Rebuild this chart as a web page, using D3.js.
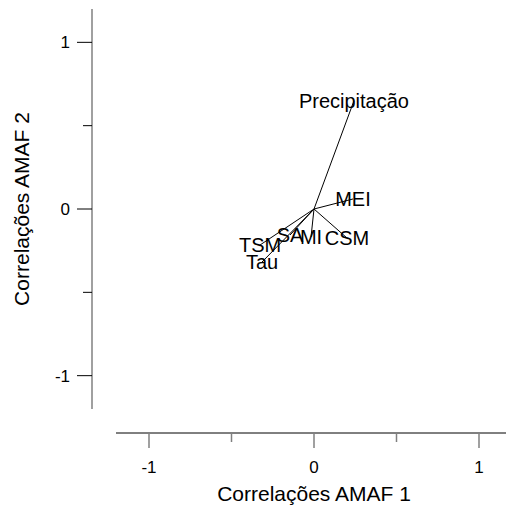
<!DOCTYPE html>
<html>
<head>
<meta charset="utf-8">
<script src="https://cdn.jsdelivr.net/npm/d3@7"></script>
<style>
  body { margin: 0; background: #fff; }
  text { font-family: "Liberation Sans", Arial, sans-serif; fill: #000; }
</style>
</head>
<body>
<div id="chart"></div>
<script>
// variable loadings (correlations with AMAF 1 and AMAF 2)
var labels = ["Precipitação", "MEI", "CSM", "MI", "SA", "TSM", "Tau"];
var amaf1 = [0.242, 0.236, 0.200, -0.018, -0.145, -0.327, -0.315];
var amaf2 = [0.649, 0.060, -0.174, -0.168, -0.156, -0.216, -0.318];
var majorTicks = [-1, 0, 1];
var minorTicks = [-0.5, 0.5];

var width = 506, height = 511;

var svg = d3.select("#chart").append("svg")
  .attr("width", width).attr("height", height);

var x = d3.scaleLinear().domain([-1.2, 1.2]).range([116, 512]);
var y = d3.scaleLinear().domain([-1.2, 1.2]).range([409, 9]);

var yAxisX = 92, xAxisY = 433;

// y axis
svg.append("line")
  .attr("x1", yAxisX).attr("x2", yAxisX)
  .attr("y1", y(1.2)).attr("y2", y(-1.2))
  .attr("stroke", "#808080").attr("stroke-width", 1.5);
svg.selectAll(".ymaj").data(majorTicks).enter().append("line")
  .attr("x1", yAxisX - 15).attr("x2", yAxisX)
  .attr("y1", function(d) { return y(d); }).attr("y2", function(d) { return y(d); })
  .attr("stroke", "#000").attr("stroke-width", 1);
svg.selectAll(".ymin").data(minorTicks).enter().append("line")
  .attr("x1", yAxisX - 9).attr("x2", yAxisX)
  .attr("y1", function(d) { return y(d); }).attr("y2", function(d) { return y(d); })
  .attr("stroke", "#000").attr("stroke-width", 1);
svg.selectAll(".ylab").data(majorTicks).enter().append("text")
  .attr("x", yAxisX - 22)
  .attr("y", function(d) { return y(d); })
  .attr("dy", "0.36em")
  .attr("text-anchor", "end")
  .style("font-size", "17px")
  .text(function(d) { return d; });

// x axis
svg.append("line")
  .attr("x1", x(-1.2)).attr("x2", x(1.2))
  .attr("y1", xAxisY).attr("y2", xAxisY)
  .attr("stroke", "#000").attr("stroke-width", 1);
svg.selectAll(".xmaj").data(majorTicks).enter().append("line")
  .attr("x1", function(d) { return x(d); }).attr("x2", function(d) { return x(d); })
  .attr("y1", xAxisY).attr("y2", xAxisY + 15)
  .attr("stroke", "#808080").attr("stroke-width", 1.5);
svg.selectAll(".xmin").data(minorTicks).enter().append("line")
  .attr("x1", function(d) { return x(d); }).attr("x2", function(d) { return x(d); })
  .attr("y1", xAxisY).attr("y2", xAxisY + 9)
  .attr("stroke", "#808080").attr("stroke-width", 1.5);
svg.selectAll(".xlab").data(majorTicks).enter().append("text")
  .attr("x", function(d) { return x(d); })
  .attr("y", xAxisY + 34)
  .attr("dy", "0.36em")
  .attr("text-anchor", "middle")
  .style("font-size", "17px")
  .text(function(d) { return d; });

// axis titles
svg.append("text")
  .attr("x", x(0)).attr("y", 501)
  .attr("text-anchor", "middle")
  .style("font-size", "21px")
  .text("Correlações AMAF 1");
svg.append("text")
  .attr("transform", "translate(29," + y(0) + ") rotate(-90)")
  .attr("text-anchor", "middle")
  .style("font-size", "21px")
  .text("Correlações AMAF 2");

// vectors from origin
var idx = d3.range(labels.length);
svg.selectAll(".vec").data(idx).enter().append("line")
  .attr("x1", x(0)).attr("y1", y(0))
  .attr("x2", function(i) { return x(amaf1[i]); })
  .attr("y2", function(i) { return y(amaf2[i]); })
  .attr("stroke", "#000").attr("stroke-width", 1);

svg.selectAll(".lab").data(idx).enter().append("text")
  .attr("x", function(i) { return x(amaf1[i]); })
  .attr("y", function(i) { return y(amaf2[i]); })
  .attr("dy", "0.36em")
  .attr("text-anchor", "middle")
  .style("font-size", "20px")
  .text(function(i) { return labels[i]; });
</script>
</body>
</html>
